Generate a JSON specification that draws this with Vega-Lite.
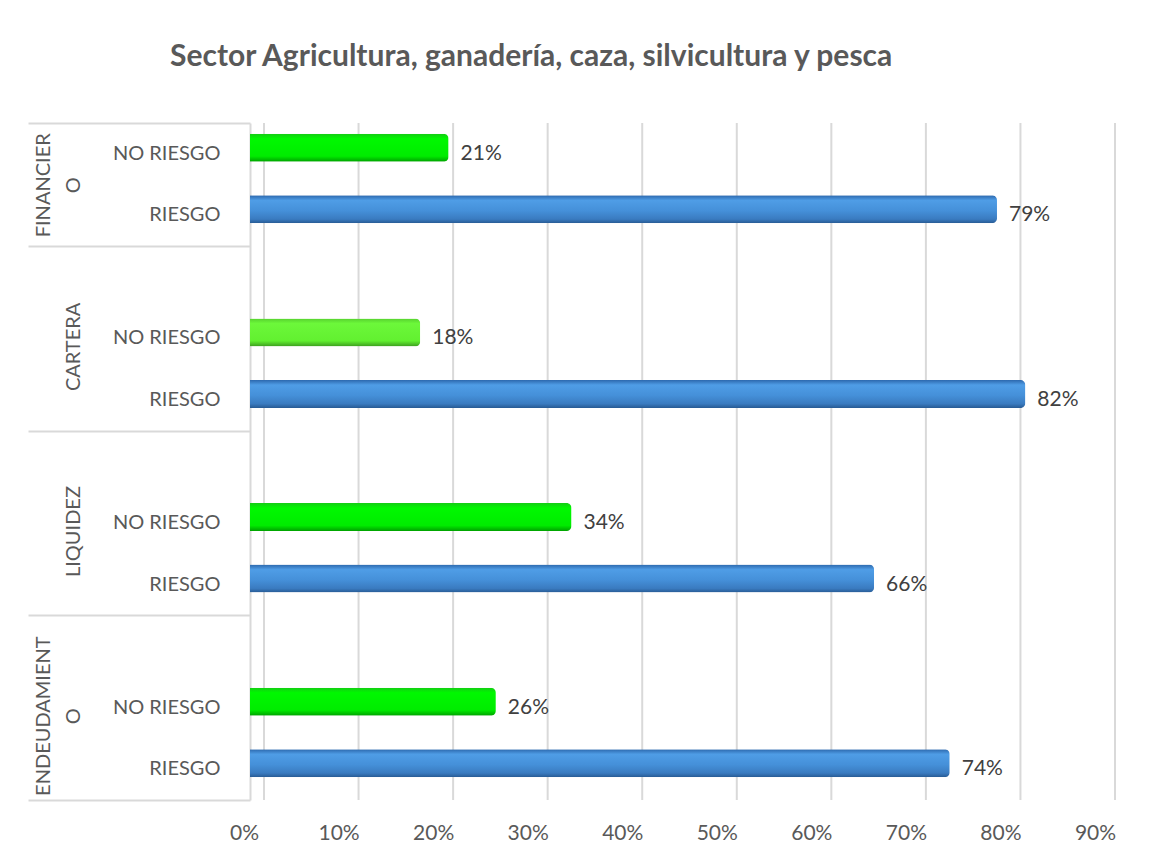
{
  "$schema": "https://vega.github.io/schema/vega-lite/v6.json",
  "width": 851,
  "height": 677,
  "padding": {"left": 27, "top": 42, "right": 10, "bottom": 10},
  "background": "white",
  "title": {
    "text": "Sector Agricultura, ganadería, caza, silvicultura y pesca",
    "font": "Lato",
    "fontSize": 30,
    "fontWeight": "bold",
    "color": "#595959",
    "anchor": "start",
    "frame": "bounds",
    "dx": 143,
    "offset": 50
  },
  "config": {
    "view": {"stroke": null},
    "font": "Lato"
  },
  "datasets": {
    "bars": [
      {"grupo": "FINANCIERO", "tipo": "NO RIESGO", "valor": 0.21},
      {"grupo": "FINANCIERO", "tipo": "RIESGO", "valor": 0.79},
      {"grupo": "CARTERA", "tipo": "NO RIESGO", "valor": 0.18},
      {"grupo": "CARTERA", "tipo": "RIESGO", "valor": 0.82},
      {"grupo": "LIQUIDEZ", "tipo": "NO RIESGO", "valor": 0.34},
      {"grupo": "LIQUIDEZ", "tipo": "RIESGO", "valor": 0.66},
      {"grupo": "ENDEUDAMIENTO", "tipo": "NO RIESGO", "valor": 0.26},
      {"grupo": "ENDEUDAMIENTO", "tipo": "RIESGO", "valor": 0.74}
    ],
    "ticks": [
      {"t": 0}, {"t": 0.1}, {"t": 0.2}, {"t": 0.3}, {"t": 0.4},
      {"t": 0.5}, {"t": 0.6}, {"t": 0.7}, {"t": 0.8}, {"t": 0.9}
    ]
  },
  "layer": [
    {
      "data": {"name": "ticks"},
      "mark": {"type": "rule", "color": "#d9d9d9", "strokeWidth": 2, "xOffset": 14},
      "encoding": {
        "x": {
          "field": "t", "type": "quantitative",
          "scale": {"domain": [0, 0.9], "nice": false, "zero": true},
          "axis": {
            "title": null, "format": ".0%", "values": [0, 0.1, 0.2, 0.3, 0.4, 0.5, 0.6, 0.7, 0.8, 0.9],
            "domain": false, "ticks": false, "grid": false,
            "labelFlush": false, "labelAlign": "center",
            "labelFont": "Lato", "labelFontSize": 21, "labelColor": "#595959",
            "labelPadding": 22, "labelOffset": -6
          }
        }
      }
    },
    {
      "data": {"name": "bars"},
      "transform": [{"calculate": "datum.grupo + '|' + datum.tipo", "as": "slot"}],
      "mark": {"type": "bar", "size": 28, "yOffset": -6, "cornerRadiusEnd": 5},
      "encoding": {
        "x": {"field": "valor", "type": "quantitative", "scale": {"domain": [0, 0.9], "nice": false, "zero": true}},
        "y": {
          "field": "slot", "type": "nominal", "sort": null,
          "scale": {
            "domain": ["FINANCIERO|NO RIESGO", "FINANCIERO|RIESGO", "CARTERA|", "CARTERA|NO RIESGO", "CARTERA|RIESGO", "LIQUIDEZ|", "LIQUIDEZ|NO RIESGO", "LIQUIDEZ|RIESGO", "ENDEUDAMIENTO|", "ENDEUDAMIENTO|NO RIESGO", "ENDEUDAMIENTO|RIESGO"],
            "paddingInner": 0, "paddingOuter": 0
          },
          "axis": {
            "orient": "left", "title": null, "domain": false, "ticks": false, "grid": false,
            "labelExpr": "split(datum.value, '|')[1]",
            "labelFont": "Lato", "labelFontSize": 20, "labelColor": "#595959",
            "labelPadding": 30, "labelAlign": "right"
          }
        },
        "color": {
          "condition": [
            {"test": "datum.tipo == 'RIESGO'", "value": {"gradient": "linear", "x1": 0, "y1": 0, "x2": 0, "y2": 1, "stops": [{"offset": 0, "color": "#2c68ad"}, {"offset": 0.18, "color": "#4f9de6"}, {"offset": 0.55, "color": "#4590d9"}, {"offset": 0.85, "color": "#3a7bc0"}, {"offset": 1, "color": "#275a93"}]}},
            {"test": "datum.grupo == 'CARTERA'", "value": {"gradient": "linear", "x1": 0, "y1": 0, "x2": 0, "y2": 1, "stops": [{"offset": 0, "color": "#56d02e"}, {"offset": 0.18, "color": "#6cf83a"}, {"offset": 0.8, "color": "#62f030"}, {"offset": 1, "color": "#3c9e1e"}]}}
          ],
          "value": {"gradient": "linear", "x1": 0, "y1": 0, "x2": 0, "y2": 1, "stops": [{"offset": 0, "color": "#14cc14"}, {"offset": 0.18, "color": "#00f800"}, {"offset": 0.8, "color": "#00ec00"}, {"offset": 1, "color": "#00a000"}]}
        }
      }
    },
    {
      "data": {"name": "bars"},
      "transform": [{"calculate": "datum.grupo + '|' + datum.tipo", "as": "slot"}],
      "mark": {"type": "text", "align": "left", "baseline": "middle", "dx": 12, "font": "Lato", "fontSize": 21, "color": "#404040"},
      "encoding": {
        "x": {"field": "valor", "type": "quantitative", "scale": {"domain": [0, 0.9], "nice": false, "zero": true}},
        "y": {
          "field": "slot", "type": "nominal", "sort": null,
          "scale": {
            "domain": ["FINANCIERO|NO RIESGO", "FINANCIERO|RIESGO", "CARTERA|", "CARTERA|NO RIESGO", "CARTERA|RIESGO", "LIQUIDEZ|", "LIQUIDEZ|NO RIESGO", "LIQUIDEZ|RIESGO", "ENDEUDAMIENTO|", "ENDEUDAMIENTO|NO RIESGO", "ENDEUDAMIENTO|RIESGO"],
            "paddingInner": 0, "paddingOuter": 0
          },
          "axis": {
            "orient": "left", "title": null, "grid": false,
            "domain": true, "domainColor": "#d9d9d9", "domainWidth": 2,
            "ticks": true, "tickBand": "extent", "tickSize": 222, "tickColor": "#d9d9d9", "tickWidth": 2,
            "tickOpacity": {"condition": {"test": "datum.value == null || indexof(['FINANCIERO|RIESGO','CARTERA|RIESGO','LIQUIDEZ|RIESGO','ENDEUDAMIENTO|RIESGO'], datum.value) >= 0", "value": 1}, "value": 0},
            "labelExpr": "datum.value == 'FINANCIERO|NO RIESGO' ? ['FINANCIER', 'O'] : datum.value == 'CARTERA|NO RIESGO' ? 'CARTERA' : datum.value == 'LIQUIDEZ|NO RIESGO' ? 'LIQUIDEZ' : datum.value == 'ENDEUDAMIENTO|NO RIESGO' ? ['ENDEUDAMIENT', 'O'] : ''",
            "labelOffset": {"condition": {"test": "datum.value == 'FINANCIERO|NO RIESGO'", "value": 31}, "value": 8},
            "labelPadding": {"condition": {"test": "datum.value == 'FINANCIERO|NO RIESGO' || datum.value == 'ENDEUDAMIENTO|NO RIESGO'", "value": -25}, "value": -55},
            "labelAngle": -90, "labelAlign": "center", "labelBaseline": "bottom",
            "labelLineHeight": 30,
            "labelFont": "Lato", "labelFontSize": 20, "labelColor": "#595959"
          }
        },
        "text": {"field": "valor", "type": "quantitative", "format": ".0%"}
      }
    }
  ],
  "resolve": {"axis": {"y": "independent"}}
}
